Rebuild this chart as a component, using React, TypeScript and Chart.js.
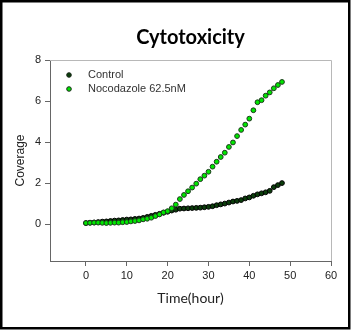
import React, { useEffect, useRef } from "react";
import { Chart, registerables } from "chart.js";
Chart.register(...registerables);

const hours = [0,1,2,3,4,5,6,7,8,9,10,11,12,13,14,15,16,17,18,19,20,21,22,23,24,25,26,27,28,29,30,31,32,33,34,35,36,37,38,39,40,41,42,43,44,45,46,47,48];
const controlValues = [0.05,0.07,0.08,0.10,0.12,0.13,0.15,0.17,0.18,0.20,0.22,0.23,0.25,0.27,0.30,0.35,0.40,0.45,0.50,0.55,0.60,0.66,0.70,0.75,0.76,0.77,0.78,0.79,0.80,0.82,0.84,0.87,0.92,0.96,1.00,1.05,1.10,1.13,1.17,1.25,1.30,1.38,1.45,1.50,1.55,1.62,1.80,1.90,2.00];
const nocodazoleValues = [0.05,0.06,0.07,0.07,0.06,0.05,0.06,0.07,0.07,0.09,0.10,0.13,0.15,0.18,0.23,0.26,0.31,0.39,0.47,0.57,0.63,0.77,0.95,1.22,1.42,1.60,1.78,1.97,2.19,2.36,2.55,2.80,3.04,3.27,3.48,3.76,3.98,4.29,4.59,4.85,5.14,5.55,5.94,6.04,6.26,6.42,6.62,6.78,6.93];
const xTicks = [0,10,20,30,40,50,60];
const yTicks = [0,2,4,6,8];
const seriesNames = ["Control", "Nocodazole 62.5nM"];
const titleText = "Cytotoxicity";
const xTitle = "Time(hour)";
const yTitle = "Coverage";

const CONTROL_FILL = "#0b3d0b";
const NOCO_FILL = "#00e600";

export default function App() {
  const ref = useRef<HTMLCanvasElement | null>(null);
  useEffect(() => {
    document.body.style.margin = "0";
    const canvas = ref.current!;
    const decor = {
      id: "decor",
      beforeDraw(chart: any) {
        const ctx = chart.ctx;
        ctx.save();
        ctx.fillStyle = "#fff";
        ctx.fillRect(0, 0, chart.width, chart.height);
        ctx.restore();
      },
      afterDraw(chart: any) {
        const ctx = chart.ctx;
        const a = chart.chartArea;
        ctx.save();
        // top & right frame
        ctx.strokeStyle = "#b8b8b8";
        ctx.lineWidth = 1;
        ctx.beginPath();
        ctx.moveTo(a.left, a.top + 0.5);
        ctx.lineTo(a.right + 0.5, a.top + 0.5);
        ctx.lineTo(a.right + 0.5, a.bottom);
        ctx.stroke();
        // outer border
        ctx.strokeStyle = "#000";
        ctx.lineWidth = 2.5;
        ctx.strokeRect(1.25, 1.25, 348, 327);
        // title
        ctx.fillStyle = "#000";
        ctx.textAlign = "center";
        ctx.textBaseline = "middle";
        ctx.font = "bold 20px Lato";
        ctx.fillText(titleText, (a.left + a.right) / 2, 38);
        // x title
        ctx.fillStyle = "#222";
        ctx.font = "14px Lato";
        ctx.fillText(xTitle, (a.left + a.right) / 2, 298);
        // y title
        ctx.save();
        ctx.translate(21, (a.top + a.bottom) / 2);
        ctx.rotate(-Math.PI / 2);
        ctx.font = "12px 'Liberation Sans'";
        ctx.fillText(yTitle, 0, 0);
        ctx.restore();
        // legend
        const items = [
          { name: seriesNames[0], fill: CONTROL_FILL, y: 75 },
          { name: seriesNames[1], fill: NOCO_FILL, y: 89 },
        ];
        ctx.textAlign = "left";
        ctx.font = "11px 'Liberation Sans'";
        for (const it of items) {
          ctx.beginPath();
          ctx.arc(69, it.y, 2.3, 0, Math.PI * 2);
          ctx.fillStyle = it.fill;
          ctx.fill();
          ctx.strokeStyle = "#1a2a1a";
          ctx.lineWidth = 1;
          ctx.stroke();
          ctx.fillStyle = "#333";
          ctx.fillText(it.name, 88, it.y);
        }
        ctx.restore();
      },
    };
    const chart = new Chart(canvas, {
      type: "scatter",
      data: {
        datasets: [
          {
            label: seriesNames[1],
            data: hours.map((h, i) => ({ x: h, y: nocodazoleValues[i] })),
            backgroundColor: NOCO_FILL,
            borderColor: "#1c3a1c",
            borderWidth: 1,
            pointRadius: 2.4,
            order: 0,
          },
          {
            label: seriesNames[0],
            data: hours.map((h, i) => ({ x: h, y: controlValues[i] })),
            backgroundColor: CONTROL_FILL,
            borderColor: "#000",
            borderWidth: 1,
            pointRadius: 2.4,
            order: 1,
          },
        ],
      },
      plugins: [decor],
      options: {
        animation: false,
        responsive: false,
        devicePixelRatio: 1,
        layout: { padding: { left: 0, top: 60, right: 20, bottom: 0 } },
        plugins: { legend: { display: false }, tooltip: { enabled: false }, title: { display: false } },
        scales: {
          x: {
            type: "linear",
            min: -8.8,
            max: 60,
            afterBuildTicks: (s: any) => { s.ticks = xTicks.map((v) => ({ value: v })); },
            afterFit: (s: any) => { s.height = 69; },
            ticks: { font: { family: "Liberation Sans", size: 11 }, color: "#222", padding: 3, maxRotation: 0, autoSkip: false },
            grid: { drawOnChartArea: false, tickLength: 5, color: "#666", tickColor: "#666" },
            border: { color: "#666", width: 1 },
          },
          y: {
            type: "linear",
            min: -1.8,
            max: 8,
            afterBuildTicks: (s: any) => { s.ticks = yTicks.map((v) => ({ value: v })); },
            afterFit: (s: any) => { s.width = 50; },
            ticks: { font: { family: "Liberation Sans", size: 11 }, color: "#222", padding: 4, autoSkip: false },
            grid: { drawOnChartArea: false, tickLength: 5, color: "#666", tickColor: "#666" },
            border: { color: "#666", width: 1 },
          },
        },
      },
    } as any);
    return () => chart.destroy();
  }, []);
  return <canvas ref={ref} width={351} height={330} style={{ display: "block", width: 351, height: 330 }} />;
}
